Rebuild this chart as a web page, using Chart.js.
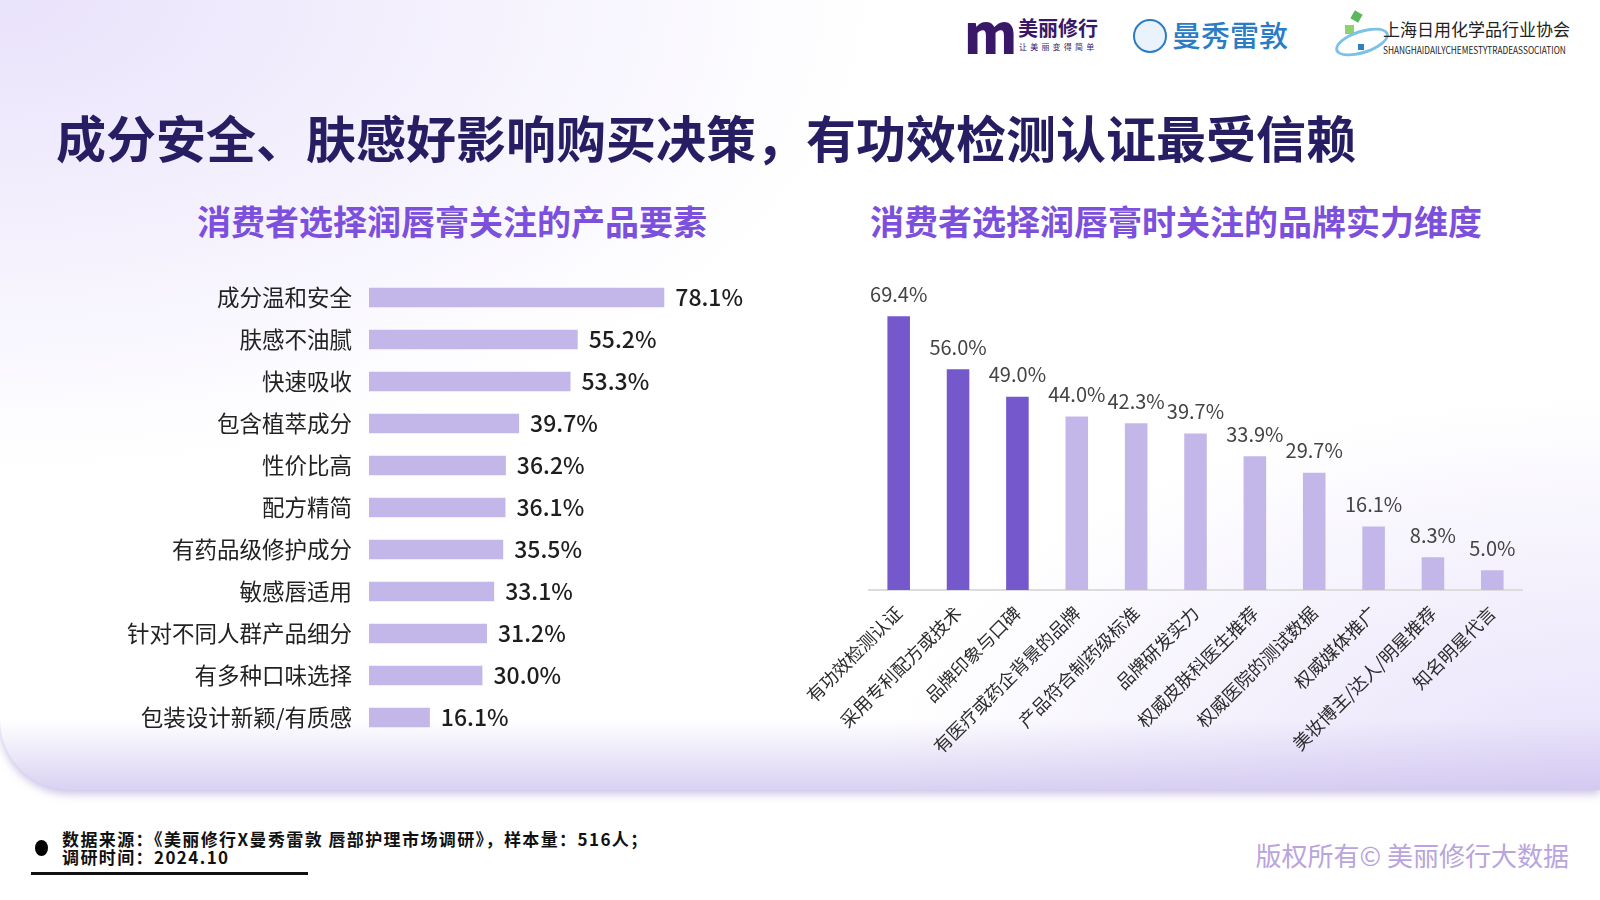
<!DOCTYPE html>
<html lang="zh-CN">
<head>
<meta charset="utf-8">
<script src="https://cdn.jsdelivr.net/npm/chart.js@4.4.1/dist/chart.umd.min.js"></script>
<style>
  body { margin:0; width:1600px; height:900px; overflow:hidden; background:#fff; position:relative;
         font-family:"Noto Sans CJK SC","Noto Sans",sans-serif; }
  .panel { position:absolute; left:0; top:0; width:1600px; height:790px; border-bottom-left-radius:70px;
           background:
             linear-gradient(to bottom, rgba(255,255,255,0) 91%, rgba(205,194,238,0.75) 100%),
             radial-gradient(ellipse 55% 60% at 0% 0%, #e9e2fb 0%, rgba(255,255,255,0) 100%),
             radial-gradient(ellipse 45% 50% at 100% 100%, #e7e0fa 0%, rgba(255,255,255,0) 100%),
             #fff;
           box-shadow:0 4px 8px rgba(160,145,210,0.55); }
  .title { position:absolute; left:56px; top:100px; font-size:50px; font-weight:700; color:#261d63; white-space:nowrap; }
  .sub { position:absolute; top:196px; font-size:34px; font-weight:700; color:#7c4fdc; white-space:nowrap; }
  canvas { position:absolute; }
  .logo { position:absolute; white-space:nowrap; }
  .foot { position:absolute; left:62px; font-size:17px; font-weight:700; color:#111; white-space:nowrap; letter-spacing:1.4px; line-height:18px; }
</style>
</head>
<body>
<div class="panel"></div>

<!-- logos -->
<div class="logo" style="left:964px;top:4px;font-size:54px;font-weight:900;color:#3a1868;letter-spacing:-3px;line-height:54px">m</div>
<div class="logo" style="left:1018px;top:16px;font-size:20px;font-weight:700;color:#3a1868;line-height:24px">美丽修行</div>
<div class="logo" style="left:1019px;top:41px;font-size:8px;color:#3a1868;letter-spacing:3.2px">让美丽变得简单</div>
<div class="logo" style="left:1133px;top:19px;width:30px;height:30px;border:2px solid #2a7cc7;border-radius:50%;background:#eaf3fb"></div>
<div class="logo" style="left:1172px;top:16px;font-size:29px;font-weight:500;color:#2a7cc7;line-height:36px">曼秀雷敦</div>
<div class="logo" style="left:1352px;top:12px;width:9px;height:9px;background:#5cb85c;transform:rotate(30deg)"></div>
<div class="logo" style="left:1345px;top:25px;width:9px;height:9px;background:#8fd16a"></div>
<div class="logo" style="left:1334px;top:30px;width:50px;height:18px;border:3px solid #7cc1e8;border-radius:50%;transform:rotate(-18deg)"></div>
<div class="logo" style="left:1358px;top:44px;width:6px;height:6px;background:#2f7fc1"></div>
<div class="logo" style="left:1383px;top:19px;font-size:17px;color:#222;line-height:20px">上海日用化学品行业协会</div>
<div class="logo" style="left:1383px;top:42px;font-size:10px;color:#222;transform:scaleX(0.83);transform-origin:left">SHANGHAIDAILYCHEMESTYTRADEASSOCIATION</div>

<div class="title">成分安全、肤感好影响购买决策，有功效检测认证最受信赖</div>
<div class="sub" style="left:197px">消费者选择润唇膏关注的产品要素</div>
<div class="sub" style="left:870px">消费者选择润唇膏时关注的品牌实力维度</div>

<canvas id="produto" style="left:100px;top:246px" width="700" height="523"></canvas>
<canvas id="marca" style="left:760px;top:280px" width="780" height="480"></canvas>

<!-- rodapé -->
<div class="logo" style="left:35px;top:840px;width:13px;height:16px;border-radius:50%;background:#000"></div>
<div class="foot" style="top:830px">数据来源：《美丽修行X曼秀雷敦 唇部护理市场调研》，样本量：516人；</div>
<div class="foot" style="top:848px">调研时间：2024.10</div>
<div class="logo" style="left:31px;top:872px;width:277px;height:3px;background:#111"></div>
<div class="logo" style="right:31px;top:836px;font-size:26px;color:#b8a4de">版权所有© 美丽修行大数据</div>

<script>
// dados
const produtoLabels = ['成分温和安全', '肤感不油腻', '快速吸收', '包含植萃成分', '性价比高', '配方精简',
  '有药品级修护成分', '敏感唇适用', '针对不同人群产品细分', '有多种口味选择', '包装设计新颖/有质感'];
const produtoValores = [78.1, 55.2, 53.3, 39.7, 36.2, 36.1, 35.5, 33.1, 31.2, 30.0, 16.1];

const marcaLabels = ['有功效检测认证', '采用专利配方或技术', '品牌印象与口碑', '有医疗或药企背景的品牌',
  '产品符合制药级标准', '品牌研发实力', '权威皮肤科医生推荐', '权威医院的测试数据', '权威媒体推广',
  '美妆博主/达人/明星推荐', '知名明星代言'];
const marcaValores = [69.4, 56.0, 49.0, 44.0, 42.3, 39.7, 33.9, 29.7, 16.1, 8.3, 5.0];
const destaques = 3; // primeiras barras em roxo escuro

Chart.defaults.font.family = '"Noto Sans CJK SC", "Noto Sans", sans-serif';
Chart.defaults.animation = false;

// escreve o valor de cada barra
const rotulos = {
  id: 'rotulos',
  afterDatasetsDraw(chart, args, opts) {
    const ctx = chart.ctx;
    const dados = chart.data.datasets[0].data;
    ctx.save();
    ctx.font = opts.font;
    ctx.fillStyle = opts.color;
    chart.getDatasetMeta(0).data.forEach((bar, i) => {
      const txt = dados[i].toFixed(1) + '%';
      if (chart.options.indexAxis === 'y') {
        ctx.textAlign = 'left';
        ctx.textBaseline = 'middle';
        ctx.fillText(txt, bar.x + 11, bar.y);
      } else {
        ctx.textAlign = 'center';
        ctx.textBaseline = 'bottom';
        ctx.fillText(txt, bar.x, bar.y - 12);
      }
    });
    ctx.restore();
  }
};

new Chart(document.getElementById('produto'), {
  type: 'bar',
  data: {
    labels: produtoLabels,
    datasets: [{ data: produtoValores, backgroundColor: '#c3b7e9', barPercentage: 0.46, categoryPercentage: 1 }]
  },
  options: {
    indexAxis: 'y',
    responsive: false,
    layout: { padding: 0 },
    plugins: {
      legend: { display: false },
      tooltip: { enabled: false },
      rotulos: { font: '500 23px "Noto Sans CJK SC", sans-serif', color: '#1e1e1e' }
    },
    scales: {
      x: { display: false, min: 0, max: 114 },
      y: {
        grid: { display: false, drawTicks: false },
        border: { display: false },
        ticks: { color: '#222', font: { size: 22.5 }, padding: 17 },
        afterFit: s => { s.width = 269; }
      }
    }
  },
  plugins: [rotulos]
});

new Chart(document.getElementById('marca'), {
  type: 'bar',
  data: {
    labels: marcaLabels,
    datasets: [{
      data: marcaValores,
      backgroundColor: marcaValores.map((v, i) => i < destaques ? '#7458cc' : '#c3b7e9'),
      barPercentage: 0.38, categoryPercentage: 1
    }]
  },
  options: {
    responsive: false,
    layout: { padding: { left: 109, right: 18, top: 30, bottom: 0 } },
    plugins: {
      legend: { display: false },
      tooltip: { enabled: false },
      rotulos: { font: '20px "Noto Sans CJK SC", sans-serif', color: '#444' }
    },
    scales: {
      y: { display: false, min: 0, max: 71 },
      x: {
        grid: { display: false },
        border: { display: true, color: '#dcdcdc', width: 2 },
        ticks: { color: '#2b2b2b', font: { size: 18 }, minRotation: 45, maxRotation: 45, padding: 4 },
        afterFit: s => { s.height = 170; }
      }
    }
  },
  plugins: [rotulos]
});
</script>
</body>
</html>
